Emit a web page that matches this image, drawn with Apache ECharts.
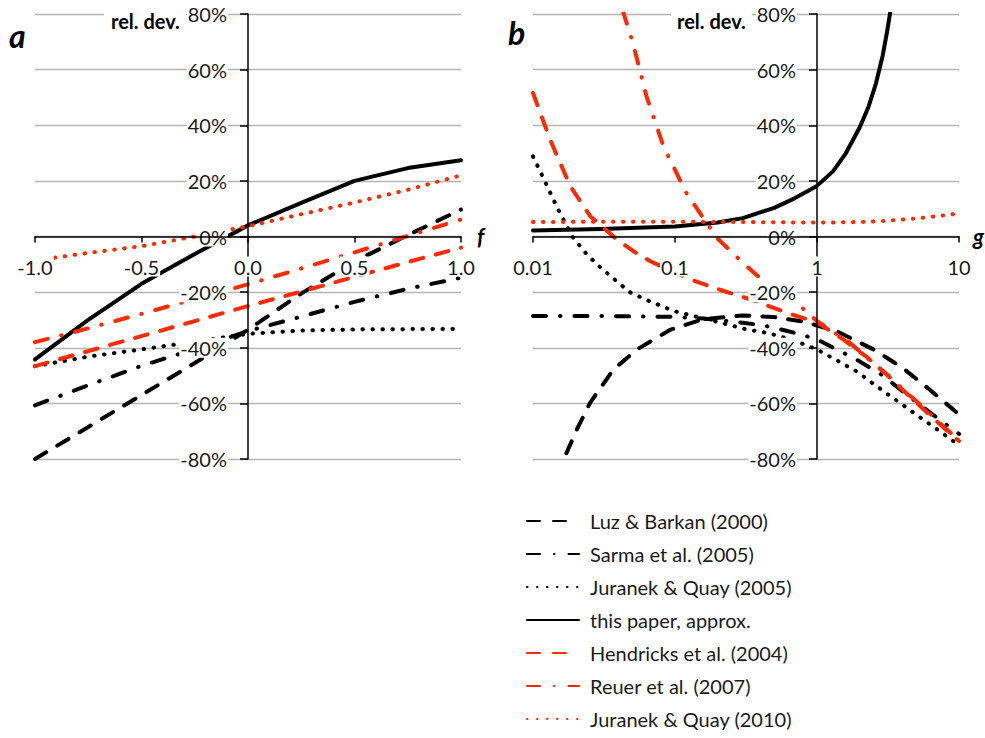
<!DOCTYPE html>
<html><head><meta charset="utf-8">
<script src="https://cdn.jsdelivr.net/npm/echarts@6/dist/echarts.min.js"></script>
<style>html,body{margin:0;padding:0;background:#fff}#c{width:985px;height:738px}</style>
</head><body><div id="c"></div>
<script>
// ---------- data: panel a (x = f) ----------
const fA      = [-1, -0.75, -0.5, -0.25, 0, 0.25, 0.5, 0.75, 1];
const luzA    = [-80, -68.5, -57, -45.5, -33.5, -20.5, -9, 0.5, 9.7];
const sarmaA  = [-60.7, -53.5, -46.5, -40.5, -34, -28.8, -23.5, -18.8, -14.8];
const jq05A   = [-46.6, -43.2, -40.6, -37.8, -35, -33.8, -33.4, -33.3, -33.2];
const paperA  = [-44.2, -30, -17, -6.3, 4, 12.1, 20, 24.6, 27.4];
const hendA   = [-46.6, -41.2, -35.8, -30.4, -25, -19.8, -14.5, -9.2, -4];
const reuerA  = [-38, -33, -27.8, -22.5, -17.2, -11.5, -5.7, 0.2, 6.1];
const jq10A   = [-8.6, -5.9, -3.5, 0, 3.7, 8, 12.2, 16.8, 22];

// ---------- data: panel b (x = g, log) ----------
const gLuzB   = [0.0145, 0.0165, 0.0204, 0.0253, 0.03, 0.0369, 0.054, 0.07, 0.092, 0.158, 0.3, 0.49, 0.8, 1, 1.37, 2.5, 4, 6.2, 10];
const luzB    = [-86.5, -80, -69.3, -59.7, -54.3, -47.8, -40.6, -37.2, -33.6, -29.7, -28.4, -28.9, -30.6, -32, -34, -40.6, -47.2, -55, -64];
const gSarmaB = [0.01, 0.03, 0.1, 0.16, 0.3, 0.42, 0.58, 0.8, 1, 1.8, 2.77, 5, 7.8, 10];
const sarmaB  = [-28.6, -28.6, -28.9, -29.5, -31, -32, -33.6, -35.5, -37, -43.6, -49.2, -59.5, -67, -71];
const gJq05B  = [0.01, 0.0122, 0.0148, 0.0189, 0.024, 0.031, 0.048, 0.063, 0.098, 0.135, 0.21, 0.32, 0.46, 0.7, 1, 1.9, 3.2, 5.6, 10];
const jq05B   = [28.8, 19.6, 10.4, 0, -6.5, -11.9, -20, -22.8, -26.8, -28.6, -31, -33.4, -34.8, -37.5, -40.6, -48.5, -57, -65.8, -75];
const gPaperB = [0.01, 0.03, 0.1, 0.2, 0.3, 0.5, 0.7, 1, 1.3, 1.6, 2, 2.3, 2.6, 2.9, 3.1, 3.3];
const paperB  = [2.2, 2.7, 3.6, 5.0, 6.6, 10.3, 13.8, 18.2, 23.5, 30, 39.3, 46.5, 55, 65, 73, 81.5];
const gHendB  = [0.01, 0.0132, 0.0183, 0.0253, 0.039, 0.051, 0.067, 0.128, 0.22, 0.37, 0.64, 1, 1.53, 2.2, 3.1, 3.8, 5.6, 8.5, 10];
const hendB   = [51.6, 34.8, 18.1, 7.3, -1.1, -5.3, -8.9, -15.4, -19.6, -23.2, -27.8, -30.8, -37, -43, -49.6, -54, -62, -70.5, -73.5];
const gReuerB = [0.043, 0.0505, 0.063, 0.083, 0.12, 0.167, 0.2, 0.285, 0.37, 0.5, 0.76, 1, 1.7, 3, 5.6, 8.9, 10];
const reuerB  = [81, 69.6, 50.4, 32.4, 15.7, 4.9, -0.8, -8.3, -13.6, -18.5, -25, -30.4, -38.2, -49, -61.5, -71, -73];
const gJq10B  = [0.01, 0.03, 0.1, 0.3, 1, 2, 3, 5, 7, 10];
const jq10B   = [5.2, 5.3, 5.3, 5.2, 5.0, 5.2, 5.6, 6.5, 7.3, 8.3];

const names = ['Luz & Barkan (2000)', 'Sarma et al. (2005)', 'Juranek & Quay (2005)',
  'this paper, approx.', 'Hendricks et al. (2004)', 'Reuer et al. (2007)', 'Juranek & Quay (2010)'];
const yTicks = [-80, 80, 20];  // min, max, step

// ---------- styles ----------
const BLACK = '#000000', RED = '#ff2a00';
const DASH = [13, 13], DASHDOT = [13, 14, 0.5, 14], DOT = [0.5, 9.5];
const styleOf = {
  'Luz & Barkan (2000)':     {color: BLACK, type: DASH},
  'Sarma et al. (2005)':     {color: BLACK, type: DASHDOT},
  'Juranek & Quay (2005)':   {color: BLACK, type: DOT},
  'this paper, approx.':     {color: BLACK, type: 'solid'},
  'Hendricks et al. (2004)': {color: RED, type: DASH},
  'Reuer et al. (2007)':     {color: RED, type: DASHDOT},
  'Juranek & Quay (2010)':   {color: RED, type: DOT}
};

function mk(name, xs, ys, xi, yi) {
  const s = styleOf[name];
  return {
    name, type: 'line', xAxisIndex: xi, yAxisIndex: yi, symbol: 'none', smooth: false,
    clip: true, z: 3,
    itemStyle: {color: s.color},
    lineStyle: {color: s.color, width: 4, type: s.type, cap: 'round', join: 'round'},
    data: xs.map((x, i) => [x, ys[i]])
  };
}

const series = [
  mk(names[0], fA, luzA, 0, 0), mk(names[1], fA, sarmaA, 0, 0), mk(names[2], fA, jq05A, 0, 0),
  mk(names[3], fA, paperA, 0, 0), mk(names[4], fA, hendA, 0, 0), mk(names[5], fA, reuerA, 0, 0),
  mk(names[6], fA, jq10A, 0, 0),
  mk(names[0], gLuzB, luzB, 1, 2), mk(names[1], gSarmaB, sarmaB, 1, 2), mk(names[2], gJq05B, jq05B, 1, 2),
  mk(names[3], gPaperB, paperB, 1, 2), mk(names[4], gHendB, hendB, 1, 2), mk(names[5], gReuerB, reuerB, 1, 2),
  mk(names[6], gJq10B, jq10B, 1, 2)
];

const FONT = 'Lato';
const TXT = '#1a1a1a';
const labelStyle = {fontSize: 20, color: TXT, fontFamily: FONT, backgroundColor: '#fff', padding: [0, 1]};
const axisLineStyle = {color: '#000', width: 1.5};
const GRID_W = 426, GRID_H = 445;

function yLabelAxis(gi, off) {
  return {
    gridIndex: gi, type: 'value', min: yTicks[0], max: yTicks[1], interval: yTicks[2], z: 10, position: 'left',
    offset: off,
    axisLine: {show: true, onZero: false, lineStyle: axisLineStyle},
    axisTick: {show: true, length: 8, lineStyle: axisLineStyle},
    axisLabel: Object.assign({margin: 20, formatter: v => v + '%'}, labelStyle),
    splitLine: {show: false}
  };
}
function yGridAxis(gi) {
  return {
    gridIndex: gi, type: 'value', min: yTicks[0], max: yTicks[1], interval: yTicks[2], z: 0, position: 'right',
    axisLine: {show: false, onZero: false}, axisTick: {show: false}, axisLabel: {show: false},
    splitLine: {show: true, lineStyle: {color: '#b4b4b4', width: 1.3}}
  };
}
const nameStyle = {fontSize: 22, fontStyle: 'italic', fontWeight: 'bold', fontFamily: FONT, color: '#000', padding: [6, 0, 0, 0]};

const option = {
  animation: false,
  textStyle: {fontFamily: FONT},
  grid: [
    {left: 35, top: 14, width: GRID_W, height: GRID_H, outerBoundsMode: 'none', containLabel: false},
    {left: 533, top: 14, width: GRID_W, height: GRID_H, outerBoundsMode: 'none', containLabel: false}
  ],
  xAxis: [
    {gridIndex: 0, type: 'value', min: -1, max: 1, interval: 0.5, z: 11, position: 'bottom', offset: -GRID_H / 2,
     name: 'f', nameLocation: 'end', nameGap: 16, nameTextStyle: nameStyle,
     axisLine: {show: true, onZero: false, lineStyle: axisLineStyle},
     axisTick: {show: true, length: 6, lineStyle: axisLineStyle},
     axisLabel: Object.assign({margin: 20, formatter: v => v.toFixed(1)}, labelStyle),
     splitLine: {show: false}},
    {gridIndex: 1, type: 'log', logBase: 10, min: 0.01, max: 10, z: 11, position: 'bottom', offset: -GRID_H / 2,
     name: 'g', nameLocation: 'end', nameGap: 14, nameTextStyle: nameStyle,
     axisLine: {show: true, onZero: false, lineStyle: axisLineStyle},
     axisTick: {show: true, length: 6, lineStyle: axisLineStyle},
     minorTick: {show: false},
     axisLabel: Object.assign({margin: 20, formatter: v => String(+(+v).toPrecision(3))}, labelStyle),
     splitLine: {show: false}}
  ],
  yAxis: [
    yLabelAxis(0, -GRID_W / 2),
    yGridAxis(0),
    yLabelAxis(1, -GRID_W * 2 / 3),
    yGridAxis(1)
  ],
  legend: {
    data: names, orient: 'vertical', left: 526, top: 511, height: 260, padding: 0,
    itemWidth: 52, itemHeight: 18, itemGap: 13,
    itemStyle: {opacity: 0},
    textStyle: {fontSize: 20, lineHeight: 18, color: TXT, fontFamily: FONT, padding: [0, 0, 0, 6]},
    selectedMode: false
  },
  graphic: [
    {type: 'text', x: 9, y: 35, z: 20, style: {text: 'a', font: 'italic bold 32px Lato', fill: '#000', align: 'left', verticalAlign: 'middle'}},
    {type: 'text', x: 508, y: 32, z: 20, style: {text: 'b', font: 'italic bold 32px Lato', fill: '#000', align: 'left', verticalAlign: 'middle'}},
    {type: 'text', x: 104, y: 21, z: 20, style: {text: 'rel. dev.', font: 'bold 20px Lato', fill: '#000', align: 'left', verticalAlign: 'middle', backgroundColor: '#fff', padding: [9, 6, 3, 7]}},
    {type: 'text', x: 671, y: 21, z: 20, style: {text: 'rel. dev.', font: 'bold 20px Lato', fill: '#000', align: 'left', verticalAlign: 'middle', backgroundColor: '#fff', padding: [9, 6, 3, 6]}}
  ],
  series
};

const chart = echarts.init(document.getElementById('c'), null, {renderer: 'svg'});
chart.setOption(option);
</script>
</body></html>
